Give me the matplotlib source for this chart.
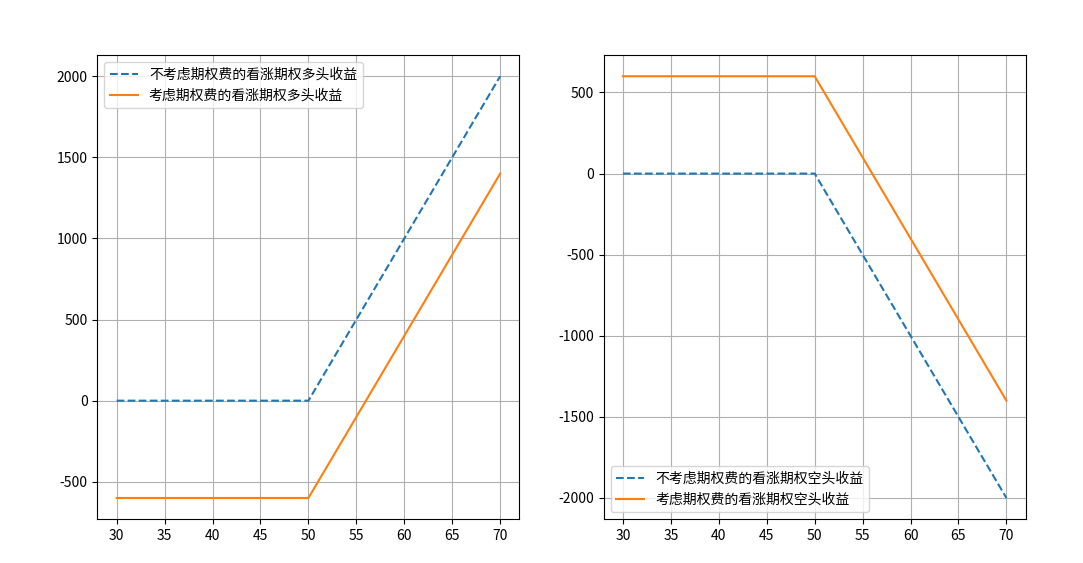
import matplotlib
matplotlib.use('Agg')
import matplotlib.pyplot as plt

plt.rcParams['font.family'] = ['Noto Sans CJK SC', 'DejaVu Sans']
plt.rcParams['axes.unicode_minus'] = False

# stock price key points (kink at strike 50)
price = [30, 50, 70]
long_no_fee = [0, 0, 2000]
long_fee = [-600, -600, 1400]
short_no_fee = [0, 0, -2000]
short_fee = [600, 600, -1400]

fig, (ax1, ax2) = plt.subplots(1, 2, figsize=(10.83, 5.63), dpi=100)
fig.subplots_adjust(left=0.09, right=0.947, top=0.902, bottom=0.078, wspace=0.2)

ax1.plot(price, long_no_fee, '--', color='#1f77b4', label='不考虑期权费的看涨期权多头收益')
ax1.plot(price, long_fee, '-', color='#ff7f0e', label='考虑期权费的看涨期权多头收益')
ax1.legend(loc='upper left')
ax1.grid(True)

ax2.plot(price, short_no_fee, '--', color='#1f77b4', label='不考虑期权费的看涨期权空头收益')
ax2.plot(price, short_fee, '-', color='#ff7f0e', label='考虑期权费的看涨期权空头收益')
ax2.legend(loc='lower left')
ax2.grid(True)

fig.savefig('out.png')
